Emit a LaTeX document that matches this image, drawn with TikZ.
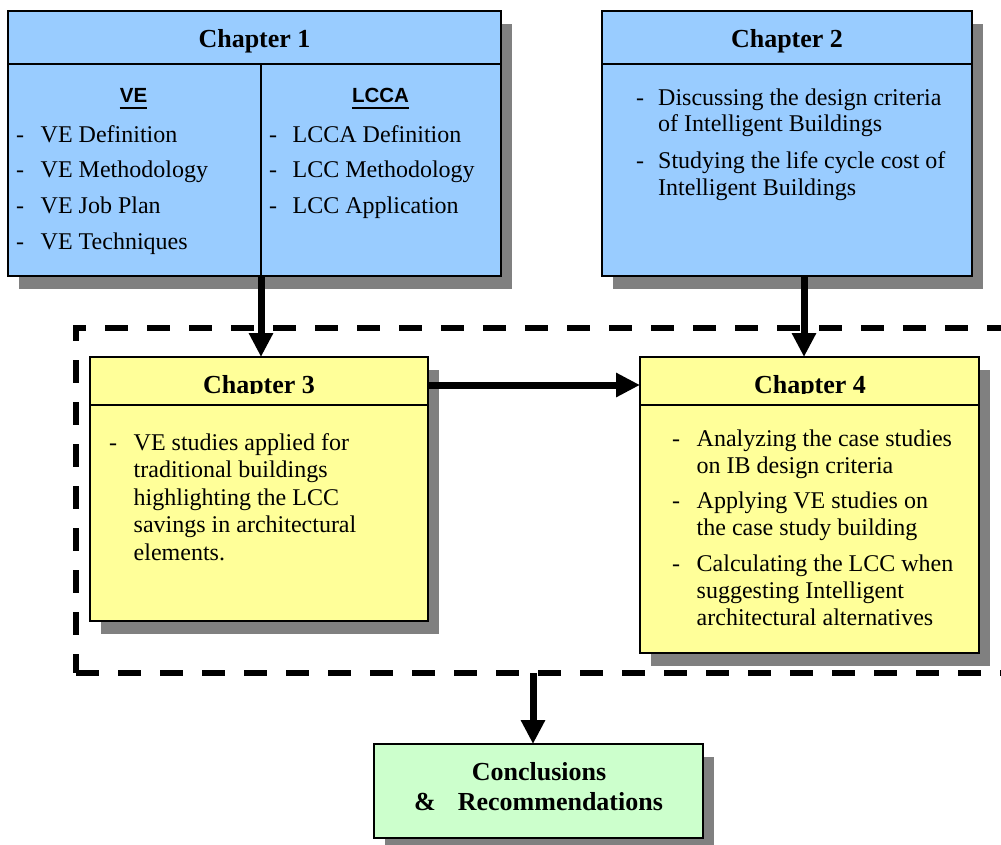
\documentclass[tikz,border=0pt]{standalone}
\usepackage{fontspec}
\setmainfont{Liberation Serif}
\newfontfamily\headsans{Liberation Sans}
\usepackage{array}
\usetikzlibrary{arrows.meta,shadows}

\definecolor{chblue}{HTML}{99CCFF}
\definecolor{chyellow}{HTML}{FFFF99}
\definecolor{chgreen}{HTML}{CCFFCC}
\definecolor{shadowgray}{HTML}{808080}

\tikzset{
  chbox/.style={rectangle, draw=black, line width=1.8pt, anchor=north west,
    inner sep=0pt, outer sep=0pt,
    drop shadow={shadow xshift=11pt, shadow yshift=-13pt, fill=shadowgray, opacity=1}},
  sepline/.style={draw=black, line width=1.8pt},
  headtxt/.style={inner sep=0pt, anchor=base, font=\fontsize{26}{30}\selectfont\bfseries},
  subhead/.style={inner sep=0pt, anchor=base, font=\headsans\fontsize{20.5}{24}\selectfont\bfseries},
  bodytxt/.style={inner sep=0pt, anchor=base west},
  grpbox/.style={rectangle, draw=black, line width=6pt, dash pattern=on 23pt off 19pt,
    anchor=north west, inner sep=0pt, outer sep=0pt},
  arr/.style={draw=black, line width=7pt, -{Triangle[length=24pt,width=23pt]}},
}

\begin{document}
\begin{tikzpicture}[x=1pt,y=-1pt]
\useasboundingbox (0,0) rectangle (1001,844);
\clip (0,0) rectangle (1001,844);

% dashed frame around chapters 3 and 4
\node[grpbox, minimum width=945pt, minimum height=345.5pt] (grp) at (76,327.5) {};

% boxes
\node[chbox, fill=chblue, minimum width=493pt, minimum height=265pt] (ch1) at (8,11) {};
\node[chbox, fill=chblue, minimum width=370pt, minimum height=265pt] (ch2) at (602,11) {};
\node[chbox, fill=chyellow, minimum width=338pt, minimum height=264pt] (ch3) at (90,357) {};
\node[chbox, fill=chyellow, minimum width=339pt, minimum height=296pt] (ch4) at (640,357) {};
\node[chbox, fill=chgreen, minimum width=329pt, minimum height=94pt] (concl) at (374,744) {};

% header separators
\draw[sepline] ([yshift=-53pt]ch1.north west) -- ([yshift=-53pt]ch1.north east);
\draw[sepline] ([yshift=-53pt]ch2.north west) -- ([yshift=-53pt]ch2.north east);
\draw[sepline] ([yshift=-48pt]ch3.north west) -- ([yshift=-48pt]ch3.north east);
\draw[sepline] ([yshift=-48pt]ch4.north west) -- ([yshift=-48pt]ch4.north east);

% chapter 1 column divider
\coordinate (d1) at (261,64);
\draw[sepline] (d1) -- (d1 |- ch1.south);

% headers
\node[headtxt] (h1) at (254.5,47) {Chapter 1};
\node[headtxt] (h2) at (787,47) {Chapter 2};
\begin{scope}
  \clip (91,358) rectangle (427,393.5);
  \node[headtxt] (h3) at (259,393) {Chapter 3};
\end{scope}
\begin{scope}
  \clip (641,358) rectangle (978,393.5);
  \node[headtxt] (h4) at (810,393) {Chapter 4};
\end{scope}

% chapter 1 sub-headings
\node[subhead] (veh) at (133.5,102) {VE};
\node[subhead] (lccah) at (380.5,102) {LCCA};
\draw[line width=2pt] ([yshift=-5.5pt]veh.base west) -- ([yshift=-5.5pt]veh.base east);
\draw[line width=2pt] ([yshift=-5.5pt]lccah.base west) -- ([yshift=-5.5pt]lccah.base east);

% chapter 1 lists
\node[bodytxt, font=\fontsize{24}{27}\selectfont] (b1a) at (16,142)
  {\begin{tabular}[t]{@{}w{l}{24.5pt}@{}l@{}}
   - & VE Definition\\[8.7pt]
   - & VE Methodology\\[8.7pt]
   - & VE Job Plan\\[8.7pt]
   - & VE Techniques
   \end{tabular}};
\node[bodytxt, font=\fontsize{24}{27}\selectfont] (b1b) at (269,142)
  {\begin{tabular}[t]{@{}w{l}{23.5pt}@{}l@{}}
   - & LCCA Definition\\[8.7pt]
   - & LCC Methodology\\[8.7pt]
   - & LCC Application
   \end{tabular}};

% chapter 2 list
\node[bodytxt, font=\fontsize{24}{26.5}\selectfont] (b2) at (636,105)
  {\begin{tabular}[t]{@{}w{l}{22pt}@{}l@{}}
   - & Discussing the design criteria\\
     & of Intelligent Buildings\\[10.5pt]
   - & Studying the life cycle cost of\\
     & Intelligent Buildings
   \end{tabular}};

% chapter 3 list
\node[bodytxt, font=\fontsize{24}{27.5}\selectfont] (b3) at (109,450)
  {\begin{tabular}[t]{@{}w{l}{24.5pt}@{}l@{}}
   - & VE studies applied for\\
     & traditional buildings\\
     & highlighting the LCC\\
     & savings in architectural\\
     & elements.
   \end{tabular}};

% chapter 4 list
\node[bodytxt, font=\fontsize{24}{27}\selectfont] (b4) at (672,446)
  {\begin{tabular}[t]{@{}w{l}{24.5pt}@{}l@{}}
   - & Analyzing the case studies\\
     & on IB design criteria\\[8.5pt]
   - & Applying VE studies on\\
     & the case study building\\[8.5pt]
   - & Calculating the LCC when\\
     & suggesting Intelligent\\
     & architectural alternatives
   \end{tabular}};

% conclusions
\node[headtxt] (c1) at (539,780) {Conclusions};
\node[headtxt, anchor=base west] (c2) at (414,810) {\&\hspace{22pt}Recommendations};

% connectors
\coordinate (a2) at (804,0);
\coordinate (a3) at (0,385);
\coordinate (a4) at (533,0);
\draw[arr] (d1 |- ch1.south) -- (d1 |- ch3.north);
\draw[arr] (a2 |- ch2.south) -- (a2 |- ch4.north);
\draw[arr] (a3 -| ch3.east) -- (a3 -| ch4.west);
\draw[arr] (a4 |- grp.south) -- (a4 |- concl.north);
\end{tikzpicture}
\end{document}
